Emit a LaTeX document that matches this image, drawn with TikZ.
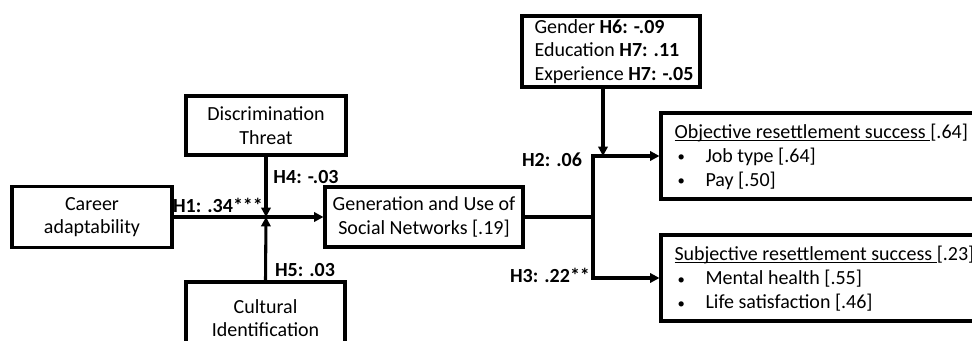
\documentclass[tikz,border=0pt]{standalone}
\usepackage{fontspec}
\setmainfont{Carlito}
\usetikzlibrary{arrows.meta}

\newcommand\ulbox[1]{\setbox0\hbox{#1}\rlap{\rule[-1.6pt]{\wd0}{0.8pt}}\box0}
\newcommand\bul{\hspace*{2.25pt}\makebox[21pt][l]{\raisebox{0.5pt}{\fontsize{11pt}{11pt}\selectfont\textbullet}}}

\begin{document}
\begin{tikzpicture}[x=0.75pt,y=-0.75pt,
  >={Triangle[length=7pt,width=7pt]},
  line width=2.3pt,
  every node/.style={font=\fontsize{15pt}{17.5pt}\selectfont},
  box/.style={rectangle, draw, line width=2.3pt, inner sep=0pt},
  hlab/.style={font=\fontsize{15pt}{17.5pt}\selectfont\bfseries}]

  \clip (0,0) rectangle (972,341);

  % predictor and moderators
  \node[box,
        minimum width = 120pt,
        minimum height = 45.75pt
        ] (career) at (92,217) {};
  \node[align=center] at (career.center) {Career\\adaptability};

  \node[box,
        minimum width = 120pt,
        minimum height = 44.25pt
        ] (discr) at (266,125.5) {};
  \node[align=center] at (discr.center) {Discrimination\\Threat};

  \node[box,
        minimum width = 119.25pt,
        minimum height = 54pt
        ] (cultural) at (265.5,318) {};
  \node[align=center] at (cultural.center) {Cultural\\Identification};

  % mediator
  \node[box,
        minimum width = 148.5pt,
        minimum height = 45pt
        ] (socnet) at (424,217) {};
  \node[align=center] at (socnet.center) {Generation and Use of\\Social Networks [.19]};

  % controls
  \node[box,
        minimum width = 133.5pt,
        minimum height = 53.25pt
        ] (moder) at (611,51.5) {};
  \node[anchor=west, align=left, inner sep=0pt] at (533,51.5)
    {Gender \textbf{H6: -.09}\\Education \textbf{H7: .11}\\Experience \textbf{H7: -.05}};

  % outcomes
  \node[box,
        minimum width = 246.75pt,
        minimum height = 64.5pt
        ] (objective) at (825.5,156) {};
  \node[anchor=west, align=left, inner sep=0pt,
        font=\fontsize{15pt}{18pt}\selectfont] at (673,157)
    {\ulbox{Objective resettlement success\ }[.64]\\
     \bul Job type [.64]\\
     \bul Pay [.50]};

  \node[box,
        minimum width = 246.75pt,
        minimum height = 64.5pt
        ] (subjective) at (825.5,278) {};
  \node[anchor=west, align=left, inner sep=0pt,
        font=\fontsize{15pt}{18pt}\selectfont] at (673,279)
    {\ulbox{Subjective resettlement success\ }[.23]\\
     \bul Mental health [.55]\\
     \bul Life satisfaction [.46]};

  % path coefficients
  \node[hlab] (h1) at (218,205) {H1: .34***};
  \node[hlab] (h4) at (306,177) {H4: -.03};
  \node[hlab] (h5) at (305,270) {H5: .03};
  \node[hlab] (h2) at (552,160) {H2: .06};
  \node[hlab] (h3) at (550,275) {H3: .22**};

  \coordinate (hub) at (266,217);
  \coordinate (split) at (593,217);
  \coordinate (modin) at (603,156);

  \draw[->] (career.east) -- (socnet.west);
  \draw[->] (discr.south) -- (hub);
  \draw[->] (cultural.north) -- (hub);
  \draw (socnet.east) -- (split);
  \draw[->] (split) |- (objective.west);
  \draw[->] (split) |- (subjective.west);
  \draw[->] (moder.south -| modin) -- (modin);

\end{tikzpicture}
\end{document}
